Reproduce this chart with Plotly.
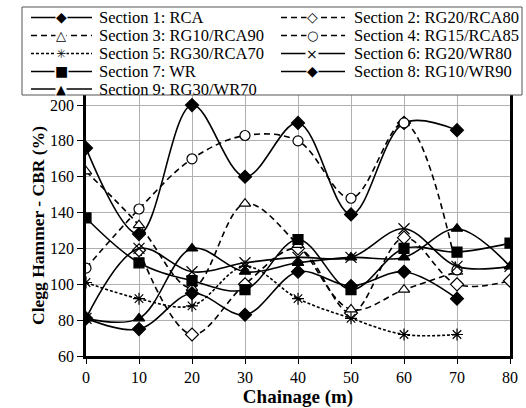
import plotly.graph_objects as go

chainage = [0, 10, 20, 30, 40, 50, 60, 70, 80]
y_ticks = [60, 80, 100, 120, 140, 160, 180, 200]

s1_x = [0, 10, 20, 30, 40, 50, 60, 70]
s1_y = [176, 128, 200, 160, 190, 139, 190, 186]

s2_x = [10, 20, 30, 40, 50, 60, 70, 80]
s2_y = [119, 72, 100, 120, 84, 126, 100, 102]

s3_x = [0, 10, 20, 30, 40, 50, 60, 70]
s3_y = [163, 133, 98, 145, 122, 86, 97, 107]

s4_x = [0, 10, 20, 30, 40, 50, 60, 70]
s4_y = [109, 142, 170, 183, 180, 148, 190, 108]

s5_x = [0, 10, 20, 30, 40, 50, 60, 70]
s5_y = [101, 92, 88, 110, 92, 81, 72, 72]

s6_x = [0, 10, 20, 30, 40, 50, 60, 70, 80]
s6_y = [81, 120, 107, 112, 115, 115, 131, 110, 110]

s7_x = [0, 10, 20, 30, 40, 50, 60, 70, 80]
s7_y = [137, 112, 102, 97, 125, 97, 120, 118, 123]

s8_x = [0, 10, 20, 30, 40, 50, 60, 70]
s8_y = [81, 75, 95, 83, 107, 99, 107, 92]

s9_x = [0, 10, 20, 30, 40, 50, 60, 70, 80]
s9_y = [81, 81, 120, 107, 112, 115, 115, 131, 110]

names = ["Section 1: RCA", "Section 2: RG20/RCA80", "Section 3: RG10/RCA90",
         "Section 4: RG15/RCA85", "Section 5: RG30/RCA70", "Section 6: RG20/WR80",
         "Section 7: WR", "Section 8: RG10/WR90", "Section 9: RG30/WR70"]

FONT = "Liberation Serif, Times New Roman, DejaVu Serif, serif"

# (x, y, dash, symbol, fill, size, legend glyph, glyph size)
series = [
    (s1_x, s1_y, "solid", "diamond", "black", 10, "\u25C6", 14),
    (s2_x, s2_y, "6px,4px", "diamond", "white", 10, "\u25C7", 14),
    (s3_x, s3_y, "6px,4px", "triangle-up", "white", 10, "\u25B3", 13),
    (s4_x, s4_y, "6px,4px", "circle", "white", 10, "\u25CB", 13),
    (s5_x, s5_y, "3px,2px", "asterisk-open", "black", 10, "\u2733", 12),
    (s6_x, s6_y, "solid", "x-thin-open", "black", 11, "\u00D7", 14),
    (s7_x, s7_y, "solid", "square", "black", 10, "\u25A0", 14),
    (s8_x, s8_y, "solid", "diamond", "black", 10, "\u25C6", 14),
    (s9_x, s9_y, "solid", "triangle-up", "black", 10, "\u25B2", 13),
]

W, H = 526, 408
ML, MR, MT, MB = 86, 16, 95, 52
PW, PH = W - ML - MR, H - MT - MB


def px(x):
    return (x - ML) / PW


def py(y):
    return (H - MB - y) / PH


fig = go.Figure()
for (xs, ys, dash, sym, fill, size, glyph, gsize), name in zip(series, names):
    fig.add_trace(go.Scatter(
        x=xs, y=ys, name=name, mode="lines+markers", showlegend=False,
        line=dict(color="black", width=1.6, dash=dash, shape="spline", smoothing=1.0),
        marker=dict(symbol=sym, size=size, color=fill,
                    line=dict(color="black", width=1.2)),
    ))

# manual legend (two columns, five rows)
shapes = [dict(
    type="rect", xref="paper", yref="paper",
    x0=px(22), x1=px(522), y0=py(95), y1=py(7),
    line=dict(color="#555555", width=1), fillcolor="rgba(0,0,0,0)", layer="above",
)]
annotations = []
row_y = [17.5, 35.5, 53.5, 71.5, 89.0]
cols = [(31, 92, 61, 97), (281, 345, 312, 352)]
for i, ((xs, ys, dash, sym, fill, size, glyph, gsize), name) in enumerate(zip(series, names)):
    r, c = divmod(i, 2)
    x0, x1, xm, xt = cols[c]
    yy = row_y[r]
    shapes.append(dict(
        type="line", xref="paper", yref="paper",
        x0=px(x0), x1=px(x1), y0=py(yy), y1=py(yy),
        line=dict(color="black", width=1.6, dash=dash), layer="above",
    ))
    annotations.append(dict(
        xref="paper", yref="paper", x=px(xm), y=py(yy), text=glyph,
        showarrow=False, xanchor="center", yanchor="middle",
        font=dict(family="DejaVu Sans", size=gsize, color="black"),
        bgcolor="white", borderpad=0,
    ))
    annotations.append(dict(
        xref="paper", yref="paper", x=px(xt), y=py(yy), text=name,
        showarrow=False, xanchor="left", yanchor="middle",
        font=dict(family=FONT, size=16.5, color="black"),
    ))

fig.update_layout(
    width=W, height=H,
    margin=dict(l=ML, r=MR, t=MT, b=MB, autoexpand=False),
    paper_bgcolor="white", plot_bgcolor="white",
    font=dict(family=FONT, size=16, color="black"),
    showlegend=False,
    xaxis=dict(
        range=[0, 80], tickmode="array", tickvals=chainage,
        showgrid=True, gridcolor="#b0b0b0", gridwidth=1,
        showline=True, linecolor="black", linewidth=2.5,
        ticks="outside", ticklen=5, tickcolor="black",
        zeroline=False,
        title=dict(text="<b>Chainage (m)</b>", font=dict(size=19), standoff=3),
    ),
    yaxis=dict(
        range=[60, 205.6], tickmode="array", tickvals=y_ticks,
        showgrid=True, gridcolor="#b0b0b0", gridwidth=1,
        showline=True, linecolor="black", linewidth=2.5, mirror=True,
        ticks="outside", ticklen=6, tickcolor="black",
        zeroline=False,
        title=dict(text="<b>Clegg Hammer - CBR (%)</b>", font=dict(size=17.5), standoff=1),
    ),
    shapes=shapes,
    annotations=annotations,
)

fig.write_html("out.html")
